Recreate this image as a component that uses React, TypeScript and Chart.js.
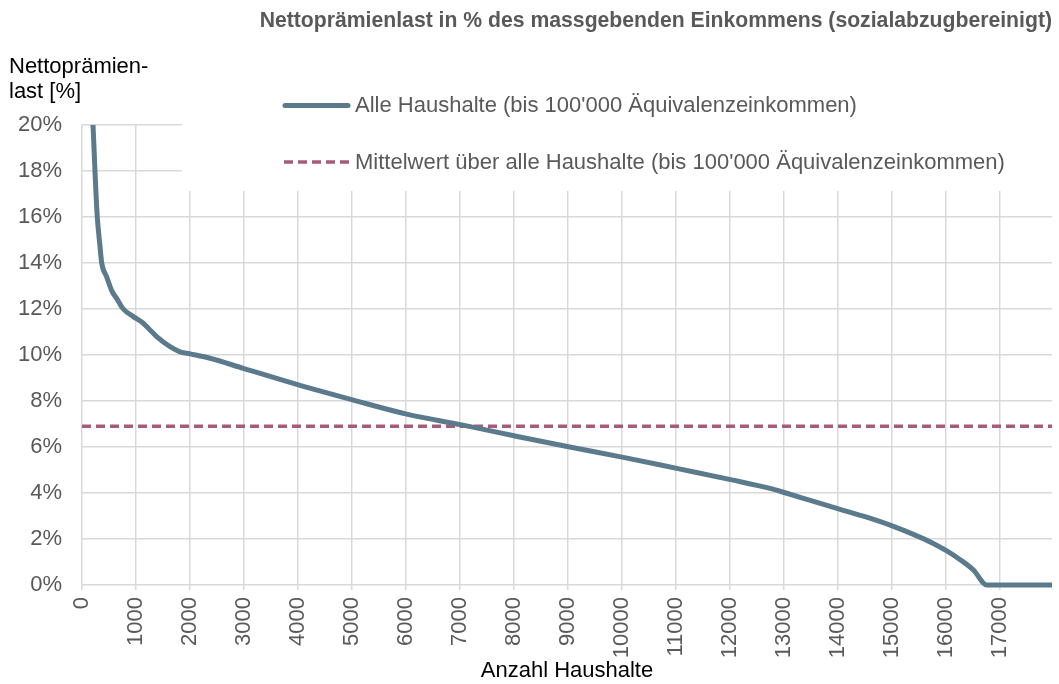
import React, { useEffect, useRef } from "react";
import { Chart, registerables } from "chart.js";

Chart.register(...registerables);

const TITLE = "Nettoprämienlast in % des massgebenden Einkommens (sozialabzugbereinigt)";
const Y_TITLE = ["Nettoprämien-", "last [%]"];
const X_TITLE = "Anzahl Haushalte";
const SERIES_ALL = "Alle Haushalte (bis 100'000 Äquivalenzeinkommen)";
const SERIES_MEAN = "Mittelwert über alle Haushalte (bis 100'000 Äquivalenzeinkommen)";

const households = [
  160, 204, 240, 283, 330, 365, 457, 550, 650, 765, 950, 1135, 1250, 1383, 1630, 1815, 2000,
  2370, 2987, 4006, 5024, 6012, 7031, 8018, 9006, 10024, 11012, 12031, 12740, 13018, 13500,
  14037, 14500, 15024, 15395, 15735, 16012, 16259, 16506, 16753, 17960,
];
const burden = [
  21.5, 20.0, 18.0, 16.0, 14.8, 14.0, 13.4, 12.8, 12.43, 12.0, 11.67, 11.38, 11.11, 10.8, 10.36,
  10.14, 10.05, 9.86, 9.42, 8.7, 8.04, 7.43, 6.96, 6.48, 6.01, 5.55, 5.07, 4.57, 4.2, 4.01, 3.67,
  3.29, 2.97, 2.55, 2.2, 1.84, 1.48, 1.1, 0.65, 0.0, 0.0,
];
const meanX = [0, 17960];
const meanValue = [6.9, 6.9];
const xTicks = [
  0, 1000, 2000, 3000, 4000, 5000, 6000, 7000, 8000, 9000, 10000, 11000, 12000, 13000, 14000,
  15000, 16000, 17000,
];
const yTicks = [0, 2, 4, 6, 8, 10, 12, 14, 16, 18, 20];
const X_MAX = 17960;
const Y_MAX = 20;

const C_LINE = "#5b7b8c";
const C_MEAN = "#a65c78";
const C_GRID = "#d9d9d9";
const C_TEXT = "#595959";
const FONT = "'Liberation Sans', Arial, sans-serif";

const overlay = {
  id: "overlay",
  beforeDatasetsDraw(chart: any) {
    const { ctx, chartArea } = chart;
    ctx.save();
    ctx.fillStyle = "#ffffff";
    ctx.fillRect(182, chartArea.top - 2, chartArea.right + 2 - 182, 191 - (chartArea.top - 2));
    ctx.restore();
  },
  afterDraw(chart: any) {
    const { ctx } = chart;
    ctx.save();
    // title
    ctx.fillStyle = C_TEXT;
    ctx.font = `bold 21.2px ${FONT}`;
    ctx.textAlign = "right";
    ctx.textBaseline = "middle";
    ctx.fillText(TITLE, 1052, 21);
    // y title
    ctx.fillStyle = "#000000";
    ctx.font = `22px ${FONT}`;
    ctx.textAlign = "left";
    ctx.textBaseline = "alphabetic";
    ctx.fillText(Y_TITLE[0], 9, 73);
    ctx.fillText(Y_TITLE[1], 9, 98);
    // legend
    ctx.lineCap = "round";
    ctx.strokeStyle = C_LINE;
    ctx.lineWidth = 5;
    ctx.beginPath();
    ctx.moveTo(285, 105.5);
    ctx.lineTo(348, 105.5);
    ctx.stroke();
    ctx.strokeStyle = C_MEAN;
    ctx.lineWidth = 3.5;
    ctx.lineCap = "butt";
    ctx.setLineDash([9, 5]);
    ctx.beginPath();
    ctx.moveTo(284, 162);
    ctx.lineTo(350, 162);
    ctx.stroke();
    ctx.setLineDash([]);
    ctx.fillStyle = C_TEXT;
    ctx.font = `22px ${FONT}`;
    ctx.textBaseline = "middle";
    ctx.fillText(SERIES_ALL, 355, 106);
    ctx.fillText(SERIES_MEAN, 355, 163);
    ctx.restore();
  },
};

export default function App() {
  const ref = useRef<HTMLCanvasElement | null>(null);
  useEffect(() => {
    if (!ref.current) return;
    const chart = new Chart(ref.current, {
      type: "line",
      data: {
        datasets: [
          {
            label: SERIES_ALL,
            data: households.map((x, i) => ({ x, y: burden[i] })),
            borderColor: C_LINE,
            borderWidth: 5,
            pointRadius: 0,
            cubicInterpolationMode: "monotone",
            fill: false,
            clip: { left: 5, top: 0, right: 5, bottom: 5 } as any,
          },
          {
            label: SERIES_MEAN,
            data: meanX.map((x, i) => ({ x, y: meanValue[i] })),
            borderColor: C_MEAN,
            borderWidth: 3.5,
            borderDash: [9, 5],
            pointRadius: 0,
            fill: false,
          },
        ],
      },
      options: {
        responsive: false,
        animation: false,
        layout: { padding: { left: 0, right: 7, top: 125, bottom: 0 } },
        plugins: { legend: { display: false }, tooltip: { enabled: false }, title: { display: false } },
        scales: {
          x: {
            type: "linear",
            min: 0,
            max: X_MAX,
            border: { display: false },
            grid: { color: C_GRID, lineWidth: 1.5, tickLength: 5, drawTicks: true },
            ticks: {
              autoSkip: false,
              minRotation: 90,
              maxRotation: 90,
              padding: 7,
              color: C_TEXT,
              font: { family: FONT, size: 22 },
              callback: (v: any) => String(v),
            },
            afterBuildTicks: (s: any) => {
              s.ticks = xTicks.map((v) => ({ value: v }));
            },
            title: {
              display: true,
              text: X_TITLE,
              color: "#000000",
              font: { family: FONT, size: 22 },
              padding: { top: 0, bottom: 0 },
            },
            afterFit: (s: any) => {
              s.height = 99;
            },
          },
          y: {
            min: 0,
            max: Y_MAX,
            border: { display: false },
            grid: { color: C_GRID, lineWidth: 1.5, drawTicks: false },
            ticks: {
              padding: 20,
              color: C_TEXT,
              font: { family: FONT, size: 22 },
              callback: (v: any) => `${v}%`,
            },
            afterBuildTicks: (s: any) => {
              s.ticks = yTicks.map((v) => ({ value: v }));
            },
            afterFit: (s: any) => {
              s.width = 82;
            },
          },
        },
      },
      plugins: [overlay],
    });
    return () => chart.destroy();
  }, []);
  return (
    <div style={{ position: "fixed", left: 0, top: 0, width: 1059, height: 684, background: "#fff" }}>
      <canvas ref={ref} width={1059} height={684} />
    </div>
  );
}
